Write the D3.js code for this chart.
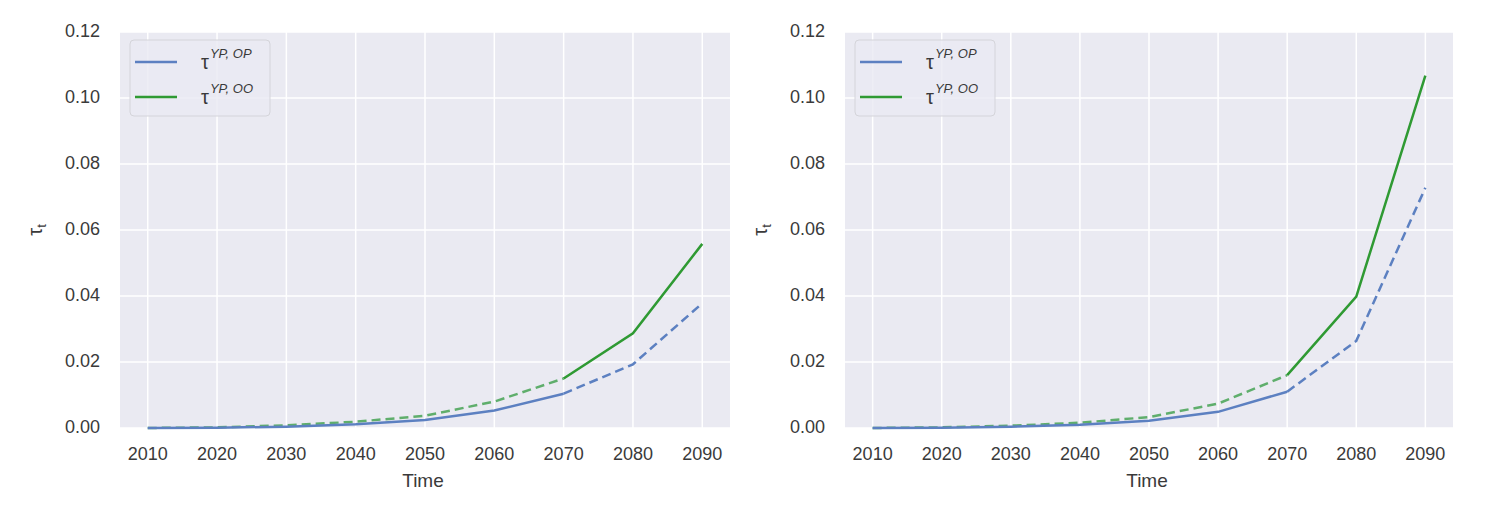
<!DOCTYPE html>
<html>
<head>
<meta charset="utf-8">
<script src="https://cdn.jsdelivr.net/npm/d3@7"></script>
<style>
  body { margin: 0; background: #fff; }
  svg text { font-family: "Liberation Sans", Arial, sans-serif; fill: #3a3a3a; }
</style>
</head>
<body>
<svg id="chart" width="1492" height="508"></svg>
<script>
// data
const years = [2010, 2020, 2030, 2040, 2050, 2060, 2070, 2080, 2090];
const leftOP  = [0, 0.0001, 0.0004, 0.0011, 0.0024, 0.0053, 0.0104, 0.0193, 0.0378];
const leftOO  = [0, 0.0002, 0.0008, 0.0019, 0.0037, 0.0080, 0.0150, 0.0287, 0.0558];
const rightOP = [0, 0.0001, 0.0004, 0.0010, 0.0022, 0.0049, 0.0110, 0.0264, 0.0728];
const rightOO = [0, 0.0002, 0.0007, 0.0016, 0.0033, 0.0074, 0.0160, 0.0398, 0.1068];
const yTicks = [0, 0.02, 0.04, 0.06, 0.08, 0.10, 0.12];
const splitYear = 2070;  // solid/dashed switch
const seriesNames = [["YP, OP", "#5c80c1"], ["YP, OO", "#2f9a33"]];

const svg = d3.select("#chart");

function panel(left, right, opData, ooData) {
    const top = 32, bottom = 428;
    const x = d3.scaleLinear().domain([2006, 2094]).range([left, right]);
    const y = d3.scaleLinear().domain([0, 0.12]).range([bottom, top]);
    const g = svg.append("g");

    g.append("rect")
        .attr("x", left).attr("y", top)
        .attr("width", right - left).attr("height", bottom - top)
        .attr("fill", "#eaeaf2");

    // grid
    g.selectAll(".vg").data(years).enter().append("line")
        .attr("x1", d => x(d)).attr("x2", d => x(d))
        .attr("y1", top).attr("y2", bottom)
        .attr("stroke", "#fff").attr("stroke-width", 1.5);
    g.selectAll(".hg").data(yTicks).enter().append("line")
        .attr("x1", left).attr("x2", right)
        .attr("y1", d => y(d)).attr("y2", d => y(d))
        .attr("stroke", "#fff").attr("stroke-width", 1.5);

    // tick labels
    g.selectAll(".xt").data(years).enter().append("text")
        .attr("x", d => x(d)).attr("y", 460)
        .attr("text-anchor", "middle").style("font-size", "18px")
        .text(d => d);
    g.selectAll(".yt").data(yTicks).enter().append("text")
        .attr("x", left - 20).attr("y", d => y(d) + 5)
        .attr("text-anchor", "end").style("font-size", "18px")
        .text(d => d3.format(".2f")(d));

    g.append("text")
        .attr("x", (left + right) / 2 - 2).attr("y", 487)
        .attr("text-anchor", "middle").style("font-size", "19px")
        .text("Time");

    const yl = g.append("text")
        .attr("transform", `translate(${left - 78},${y(0.06)}) rotate(-90)`)
        .attr("text-anchor", "middle").style("font-size", "20px");
    yl.append("tspan").text("τ");
    yl.append("tspan").attr("dy", 4).style("font-size", "13px").text("t");

    const split = years.indexOf(splitYear);
    const lineDef = d3.line().defined(d => d !== null).x((d, i) => x(years[i])).y(d => y(d));
    const pre = arr => arr.map((v, i) => i <= split ? v : null);
    const post = arr => arr.map((v, i) => i >= split ? v : null);

    // OP: solid then dashed, OO: dashed then solid
    g.append("path").attr("d", lineDef(pre(ooData)))
        .attr("fill", "none").attr("stroke", "#5fae6c").attr("stroke-width", 2.5)
        .attr("stroke-dasharray", "9,5");
    g.append("path").attr("d", lineDef(pre(opData)))
        .attr("fill", "none").attr("stroke", seriesNames[0][1]).attr("stroke-width", 2.5);
    g.append("path").attr("d", lineDef(post(opData)))
        .attr("fill", "none").attr("stroke", seriesNames[0][1]).attr("stroke-width", 2.5)
        .attr("stroke-dasharray", "9,5");
    g.append("path").attr("d", lineDef(post(ooData)))
        .attr("fill", "none").attr("stroke", seriesNames[1][1]).attr("stroke-width", 2.5);

    // legend
    const lg = g.append("g").attr("transform", `translate(${left + 10},${top + 8})`);
    lg.append("rect")
        .attr("width", 140).attr("height", 76).attr("rx", 4)
        .attr("fill", "#eaeaf2").attr("fill-opacity", 0.8)
        .attr("stroke", "#d4d4da").attr("stroke-width", 1);
    seriesNames.forEach(([name, col], i) => {
        const cy = 22 + i * 35;
        lg.append("line")
            .attr("x1", 5).attr("x2", 47).attr("y1", cy).attr("y2", cy)
            .attr("stroke", col).attr("stroke-width", 2.5);
        const t = lg.append("text").attr("x", 71).attr("y", cy + 7).style("font-size", "20px");
        t.append("tspan").text("τ");
        t.append("tspan").attr("dy", -11).attr("dx", 1).style("font-size", "13px")
            .style("font-style", "italic").text(name);
    });
}

panel(120, 730, leftOP, leftOO);
panel(845, 1453, rightOP, rightOO);
</script>
</body>
</html>
